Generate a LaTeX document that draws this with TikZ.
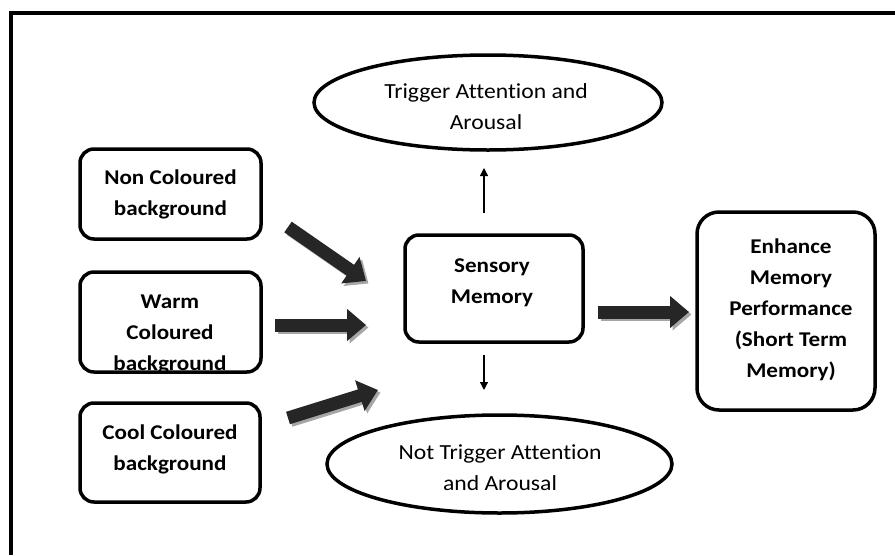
\documentclass[tikz,border=0pt]{standalone}
\usepackage{fontspec}
\setmainfont{Carlito}[FakeStretch=1.1,Ligatures={NoCommon}]
\usetikzlibrary{arrows.meta,shapes.geometric}
\begin{document}
\begin{tikzpicture}[x=1pt,y=-1pt,
  box/.style={draw, line width=3.5pt, rounded corners=14pt, inner sep=0pt},
  oval/.style={draw, ellipse, line width=3.5pt, inner sep=0pt},
  btext/.style={align=center, inner sep=0pt, font=\fontsize{21}{31}\selectfont\bfseries},
  otext/.style={align=center, inner sep=0pt, font=\fontsize{21.5}{31}\selectfont},
  blockarr/.style={line width=13pt, draw=black!85, -{Triangle[length=19pt,width=31pt]}},
  blockshadow/.style={line width=13pt, draw=black!35, -{Triangle[length=19pt,width=31pt]}},
  thinarr/.style={line width=1.2pt, -{Triangle[length=8pt,width=8pt]}}
]
\useasboundingbox (0,0) rectangle (895,555);
\draw[line width=4pt] (11,555) -- (11,13) -- (895,13);

% boxes
\node[box, minimum width=181pt, minimum height=90pt] (ncb) at (170.5,194) {};
\node[btext] (ncbt) at (170.5,194.5) {Non Coloured\\background};
\node[btext] (wcbt) at (170,334) {Warm\\Coloured\\background};
\node[box, fill=none, minimum width=181pt, minimum height=100pt] (wcb) at (170.5,322) {};
\node[box, minimum width=180pt, minimum height=99pt] (ccb) at (170,452.5) {};
\node[btext] (ccbt) at (170,449) {Cool Coloured\\background};
\node[box, minimum width=178pt, minimum height=107pt] (sens) at (494,288.5) {};
\node[btext] (senst) at (492,283) {Sensory\\Memory};
\node[box, rounded corners=22pt, minimum width=178pt, minimum height=198pt] (emp) at (786,311) {};
\node[btext] (empt) at (791,309.5) {Enhance\\Memory\\Performance\\(Short Term\\Memory)};

% ellipses
\node[oval, minimum width=348pt, minimum height=95pt] (trig) at (488,102.5) {};
\node[otext] (trigt) at (486,106.5) {Trigger Attention and\\Arousal};
\node[oval, minimum width=345pt, minimum height=98pt] (ntrig) at (499.5,464) {};
\node[otext] (ntrigt) at (500,467.5) {Not Trigger Attention\\and Arousal};

% thin arrows
\coordinate (u1) at (484,213);
\coordinate (u2) at (484,168);
\coordinate (d1) at (484,355);
\coordinate (d2) at (484,390);
\draw[thinarr] (u1) -- (u2);
\draw[thinarr] (d1) -- (d2);

% block arrows
\coordinate (a1s) at (288,227); \coordinate (a1e) at (366,281);
\coordinate (a2s) at (275,325); \coordinate (a2e) at (366,325);
\coordinate (a3s) at (288,418); \coordinate (a3e) at (378,390);
\coordinate (a4s) at (598,312); \coordinate (a4e) at (689,312);
\foreach \s/\e in {a1s/a1e,a2s/a2e,a3s/a3e,a4s/a4e}{
  \draw[blockshadow] ([shift={(2.5,2.5)}]\s) -- ([shift={(2.5,2.5)}]\e);
  \draw[blockarr] (\s) -- (\e);
}
\end{tikzpicture}
\end{document}
